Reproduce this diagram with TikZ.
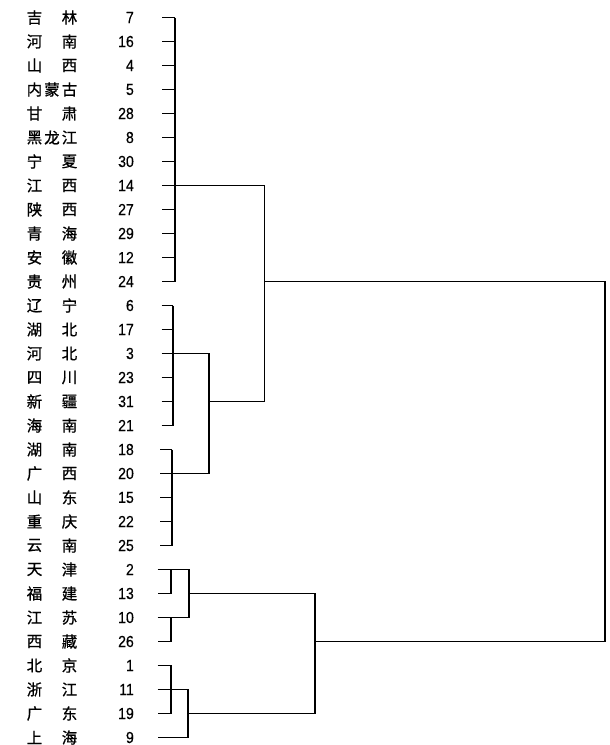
\documentclass[tikz,border=0pt]{standalone}
\usepackage{fontspec}
\setmainfont{Liberation Sans}
\newfontfamily\cjk[FakeBold=0.8]{Noto Sans CJK SC}
\newfontfamily\digits[FakeBold=0.4]{Liberation Sans}
\begin{document}
\begin{tikzpicture}[x=1pt,y=-1pt,
  dl/.style={line width=1.1pt, line join=miter},
  han/.style={font=\cjk\fontsize{15.5}{16}\selectfont, inner sep=0pt, anchor=center},
  num/.style={font=\digits\fontsize{16}{17}\selectfont, inner sep=0pt, anchor=east, xscale=0.88}]
\useasboundingbox (0,0) rectangle (610,745);
% columns of the vertical bars
\coordinate (xA) at (175,0);
\coordinate (xB) at (173,0);
\coordinate (xC) at (172,0);
\coordinate (xBC) at (209,0);
\coordinate (xAB) at (264.5,0);
\coordinate (xP) at (171,0);
\coordinate (xD) at (189,0);
\coordinate (xE) at (188,0);
\coordinate (xDE) at (315,0);
\coordinate (xR) at (605,0);
% rows
\foreach \a/\m/\b/\n [count=\i from 0] in {吉//林/7, 河//南/16, 山//西/4, 内/蒙/古/5, 甘//肃/28, 黑/龙/江/8, 宁//夏/30, 江//西/14, 陕//西/27, 青//海/29, 安//徽/12, 贵//州/24, 辽//宁/6, 湖//北/17, 河//北/3, 四//川/23, 新//疆/31, 海//南/21, 湖//南/18, 广//西/20, 山//东/15, 重//庆/22, 云//南/25, 天//津/2, 福//建/13, 江//苏/10, 西//藏/26, 北//京/1, 浙//江/11, 广//东/19, 上//海/9}{
  \pgfmathsetmacro\yy{17.5+24*\i}
  \pgfmathsetmacro\lx{\i<12 ? 162 : (\i<18 ? 161.5 : (\i<23 ? 160 : 157.5))}
  \node[han] (a\i) at (34.5,\yy) {\a};
  \node[han] (m\i) at (52,\yy) {\m};
  \node[han] (b\i) at (69.5,\yy) {\b};
  \node[num] (n\i) at (134,\yy) {\n};
  \coordinate (leaf\i) at (\lx,\yy);
}
% cluster A
\foreach \i in {0,...,11} \draw[dl] (leaf\i) -- (leaf\i -| xA);
\draw[dl] (leaf0 -| xA) -- (leaf11 -| xA);
% cluster B
\foreach \i in {12,...,17} \draw[dl] (leaf\i) -- (leaf\i -| xB);
\draw[dl] (leaf12 -| xB) -- (leaf17 -| xB);
% cluster C
\foreach \i in {18,...,22} \draw[dl] (leaf\i) -- (leaf\i -| xC);
\draw[dl] (leaf18 -| xC) -- (leaf22 -| xC);
% B + C
\draw[dl] (leaf14 -| xB) -- (leaf14 -| xBC) -- (leaf19 -| xBC) -- (leaf19 -| xC);
% A + BC
\draw[dl] (leaf7 -| xA) -- (leaf7 -| xAB) -- (leaf16 -| xAB) -- (leaf16 -| xBC);
% bottom group D
\draw[dl] (leaf23) -- (leaf23 -| xD) -- (leaf25 -| xD);
\draw[dl] (leaf25) -- (leaf25 -| xD);
\draw[dl] (leaf23 -| xP) -- (leaf24 -| xP) -- (leaf24);
\draw[dl] (leaf25 -| xP) -- (leaf26 -| xP) -- (leaf26);
% bottom group E
\draw[dl] (leaf27) -- (leaf27 -| xP) -- (leaf29 -| xP) -- (leaf29);
\draw[dl] (leaf28) -- (leaf28 -| xE) -- (leaf30 -| xE) -- (leaf30);
% D + E
\draw[dl] (leaf24 -| xD) -- (leaf24 -| xDE) -- (leaf29 -| xDE) -- (leaf29 -| xE);
% root
\draw[dl] (leaf11 -| xAB) -- (leaf11 -| xR) -- (leaf26 -| xR) -- (leaf26 -| xDE);
\end{tikzpicture}
\end{document}
